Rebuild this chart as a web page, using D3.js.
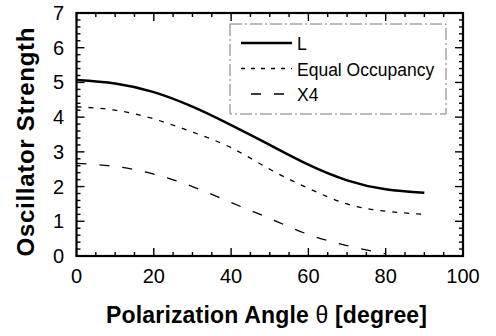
<!DOCTYPE html>
<html>
<head>
<meta charset="utf-8">
<script src="https://cdn.jsdelivr.net/npm/d3@7"></script>
<style>
  body { margin: 0; background: #fff; }
  svg { display: block; font-family: "Liberation Sans", Arial, sans-serif; }
</style>
</head>
<body>
<div id="container"></div>
<script>
// polarization angle (degree) sampled every 10
var angles = [0, 10, 20, 30, 40, 50, 60, 70, 80, 90];
var anglesX4 = [0, 10, 20, 30, 40, 50, 60, 70, 80];
var valuesL = [5.07, 4.97, 4.72, 4.30, 3.77, 3.20, 2.63, 2.18, 1.92, 1.82];
var valuesEqual = [4.30, 4.20, 3.95, 3.57, 3.12, 2.50, 1.95, 1.50, 1.29, 1.20];
var valuesX4 = [2.67, 2.58, 2.36, 2.00, 1.54, 1.08, 0.62, 0.30, 0.06];
var xTicks = [0, 20, 40, 60, 80, 100];
var yTicks = [0, 1, 2, 3, 4, 5, 6, 7];
var legendNames = ["L", "Equal Occupancy", "X4"];

var W = 496, H = 336;
var svg = d3.select("#container").append("svg")
  .attr("width", W)
  .attr("height", H);

var x = d3.scaleLinear().domain([0, 100]).range([76.5, 463]);
var y = d3.scaleLinear().domain([0, 7]).range([256, 13]);

var series = [
  { name: legendNames[0], xs: angles, ys: valuesL, width: 2.5, dash: null },
  { name: legendNames[1], xs: angles, ys: valuesEqual, width: 1.3, dash: "5,7" },
  { name: legendNames[2], xs: anglesX4, ys: valuesX4, width: 1.3, dash: "10,13" }
];

// ticks, inward on all four sides
var minorX = d3.range(0, 101, 5);
var minorY = d3.range(0, 7.01, 0.2);
var tk = svg.append("g").attr("stroke", "#000");

minorX.forEach(function(v) {
  var major = xTicks.indexOf(v) >= 0;
  var len = major ? 8 : 4;
  tk.append("line").attr("x1", x(v)).attr("x2", x(v))
    .attr("y1", y(0)).attr("y2", y(0) - len).attr("stroke-width", 1.4);
  tk.append("line").attr("x1", x(v)).attr("x2", x(v))
    .attr("y1", y(7)).attr("y2", y(7) + len).attr("stroke-width", 1.4);
});
minorY.forEach(function(v) {
  var major = Math.abs(v - Math.round(v)) < 1e-6;
  var len = major ? 8 : 4;
  tk.append("line").attr("y1", y(v)).attr("y2", y(v))
    .attr("x1", x(0)).attr("x2", x(0) + len).attr("stroke-width", 1.4);
  tk.append("line").attr("y1", y(v)).attr("y2", y(v))
    .attr("x1", x(100)).attr("x2", x(100) - len).attr("stroke-width", 1.4);
});

// frame
svg.append("rect")
  .attr("x", x(0)).attr("y", y(7))
  .attr("width", x(100) - x(0)).attr("height", y(0) - y(7))
  .attr("fill", "none").attr("stroke", "#000").attr("stroke-width", 2.2);

// tick labels
svg.selectAll(".xl").data(xTicks).enter().append("text")
  .attr("x", function(d) { return x(d); })
  .attr("y", 283)
  .attr("text-anchor", "middle")
  .style("font-size", "20px")
  .text(function(d) { return d; });

svg.selectAll(".yl").data(yTicks).enter().append("text")
  .attr("x", 64)
  .attr("y", function(d) { return y(d) + 7; })
  .attr("text-anchor", "end")
  .style("font-size", "20px")
  .text(function(d) { return d; });

// axis titles
var xt = svg.append("text")
  .attr("x", 106).attr("y", 323)
  .attr("textLength", 321)
  .style("font-size", "23px").style("font-weight", "bold");
xt.append("tspan").text("Polarization Angle ");
xt.append("tspan").style("font-weight", "normal").text("θ");
xt.append("tspan").text(" [degree]");

svg.append("text")
  .attr("transform", "translate(34,142) rotate(-90)")
  .attr("text-anchor", "middle")
  .attr("textLength", 229)
  .style("font-size", "24px").style("font-weight", "bold")
  .text("Oscillator Strength");

// curves
var line = d3.line()
  .x(function(d) { return x(d[0]); })
  .y(function(d) { return y(d[1]); })
  .curve(d3.curveNatural);

series.forEach(function(s) {
  var pts = s.xs.map(function(a, i) { return [a, s.ys[i]]; });
  svg.append("path")
    .datum(pts)
    .attr("d", line)
    .attr("fill", "none")
    .attr("stroke", "#000")
    .attr("stroke-width", s.width)
    .attr("stroke-dasharray", s.dash);
});

// legend
svg.append("rect")
  .attr("x", 230).attr("y", 24)
  .attr("width", 216).attr("height", 90)
  .attr("fill", "none").attr("stroke", "#777")
  .attr("stroke-width", 1)
  .attr("stroke-dasharray", "12,3,2,3");

var lg = svg.selectAll(".lg").data(series).enter().append("g")
  .attr("transform", function(d, i) { return "translate(0," + (i * 25.5) + ")"; });
lg.append("line")
  .attr("x1", function(d, i) { return i == 2 ? 251 : 241; })
  .attr("x2", 292)
  .attr("y1", 43).attr("y2", 43)
  .attr("stroke", "#000")
  .attr("stroke-width", function(d) { return d.width; })
  .attr("stroke-dasharray", function(d, i) { return i == 1 ? "4,6" : d.dash; });
lg.append("text")
  .attr("x", 297).attr("y", 50)
  .style("font-size", "17.5px")
  .text(function(d) { return d.name; });
</script>
</body>
</html>
